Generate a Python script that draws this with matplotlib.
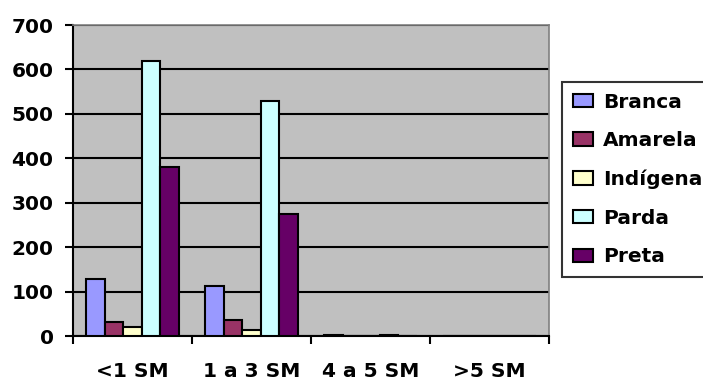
import matplotlib.pyplot as plt
import matplotlib.patches as mpatches
from matplotlib.legend_handler import HandlerPatch
import numpy as np

plt.rcParams['font.family'] = ['DejaVu Sans']
plt.rcParams['font.weight'] = 'bold'

categorias = ["<1 SM", "1 a 3 SM", "4 a 5 SM", ">5 SM"]
racas = ["Branca", "Amarela", "Indígena", "Parda", "Preta"]
cores = ["#9999FF", "#993366", "#FFFFCC", "#CCFFFF", "#660066"]

branca = [128, 112, 3, 0]
amarela = [31, 35, 0, 1]
indigena = [21, 13, 0, 0]
parda = [620, 530, 3, 1]
preta = [380, 274, 1, 0]
valores = [branca, amarela, indigena, parda, preta]

fs = 14.5

fig = plt.figure(figsize=(7.03, 3.83), dpi=100)
ax = fig.add_axes([0.1038, 0.1227, 0.6772, 0.812])
ax.set_facecolor("#C0C0C0")

x = np.arange(len(categorias))
largura = 0.156
for i, (nome, serie) in enumerate(zip(racas, valores)):
    pos = x + (i - 2) * largura
    ax.bar(pos, serie, largura, color=cores[i], edgecolor="black",
           linewidth=1.5, label=nome, zorder=3)

ax.set_xlim(-0.5, len(categorias) - 0.5)
ax.set_ylim(0, 700)
ax.set_yticks(range(0, 701, 100))
ax.yaxis.grid(True, color="black", linewidth=1.5, zorder=1)
ax.set_axisbelow(True)

# ticks nas divisões, rótulos no centro de cada faixa
ax.set_xticks(np.arange(-0.5, len(categorias), 1))
ax.set_xticklabels([])
ax.set_xticks(x, minor=True)
ax.set_xticklabels(categorias, minor=True, fontsize=fs, fontweight="bold")
ax.tick_params(axis="x", which="minor", length=0, pad=19)
ax.tick_params(axis="x", which="major", length=6, width=1.5, direction="out")
ax.tick_params(axis="y", length=6, width=1.5, labelsize=fs, direction="out", pad=8)
for lbl in ax.get_yticklabels():
    lbl.set_fontweight("bold")

ax.spines["left"].set_linewidth(1.5)
ax.spines["bottom"].set_linewidth(1.5)
ax.spines["top"].set_color("#808080")
ax.spines["right"].set_color("#808080")
ax.spines["top"].set_linewidth(1.2)
ax.spines["right"].set_linewidth(1.2)


def quadrado(legend, orig_handle, xdescent, ydescent, width, height, fontsize):
    # quadradinho deslocado para dentro da caixa
    return mpatches.Rectangle((-xdescent + 5, -ydescent), 9.5, height)


leg = fig.legend(loc="upper left", bbox_to_anchor=(562 / 703, 1 - 82 / 383),
                 prop={"size": fs, "weight": "bold"}, frameon=True,
                 fancybox=False, edgecolor="black", labelspacing=0.97,
                 handlelength=1.0, handleheight=0.65, handletextpad=0.5,
                 borderpad=0.53, borderaxespad=0,
                 handler_map={mpatches.Rectangle: HandlerPatch(patch_func=quadrado)})
leg.get_frame().set_linewidth(1.5)
leg.get_frame().set_facecolor("white")

fig.savefig("out.png", dpi=100)
